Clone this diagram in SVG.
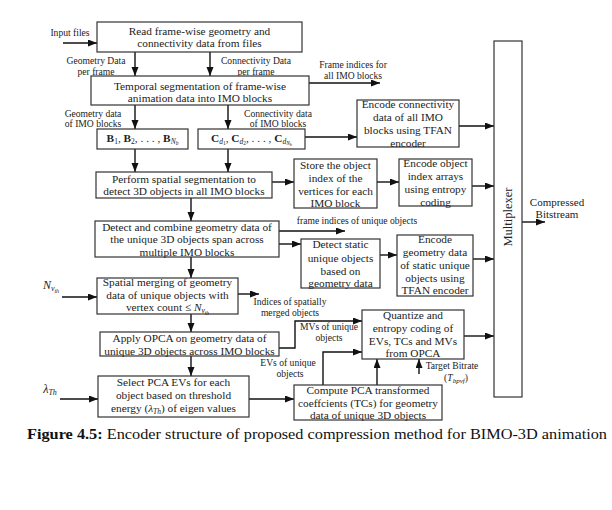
<svg xmlns="http://www.w3.org/2000/svg" width="612" height="510" viewBox="0 0 612 510">
<defs>
<marker id="ah" markerUnits="userSpaceOnUse" markerWidth="10" markerHeight="8" refX="9" refY="3.5" orient="auto">
<path d="M0,0 L9,3.5 L0,7 z" fill="#111"/>
</marker>
<style>
.box{fill:#fff;stroke:#333;stroke-width:1.2}
.t{font-family:"Liberation Serif","DejaVu Serif",serif;font-size:11.3px;fill:#222;text-anchor:middle}
.l{font-family:"Liberation Serif","DejaVu Serif",serif;font-size:9.6px;fill:#222;text-anchor:middle}
.c{fill:none;stroke:#111;stroke-width:1.4;marker-end:url(#ah)}
.b{font-weight:bold}
.i{font-style:italic}
</style>
</defs>
<rect width="612" height="510" fill="#fff"/>

<g id="connectors">
<line class="c" x1="63" y1="43" x2="97" y2="43"/>
<line class="c" x1="135" y1="52" x2="135" y2="76"/>
<line class="c" x1="210" y1="52" x2="210" y2="76"/>
<line class="c" x1="309" y1="83" x2="380" y2="83"/>
<line class="c" x1="135" y1="105" x2="135" y2="129"/>
<line class="c" x1="228" y1="105" x2="228" y2="129"/>
<line class="c" x1="135" y1="149" x2="135" y2="172"/>
<line class="c" x1="228" y1="149" x2="228" y2="172"/>
<line class="c" x1="305" y1="137" x2="357" y2="137"/>
<line class="c" x1="459" y1="126" x2="494" y2="126"/>
<line class="c" x1="272" y1="182" x2="294" y2="182"/>
<line class="c" x1="377" y1="182" x2="399" y2="182"/>
<line class="c" x1="472" y1="186" x2="494" y2="186"/>
<line class="c" x1="191" y1="198" x2="191" y2="221"/>
<line class="c" x1="279" y1="231" x2="345" y2="231"/>
<line class="c" x1="279" y1="244" x2="301" y2="244"/>
<line class="c" x1="380" y1="255" x2="397" y2="255"/>
<line class="c" x1="473" y1="259" x2="494" y2="259"/>
<line class="c" x1="191" y1="257" x2="191" y2="278"/>
<line class="c" x1="62" y1="297" x2="97" y2="297"/>
<line class="c" x1="238" y1="294" x2="259" y2="294"/>
<line class="c" x1="191" y1="314" x2="191" y2="332"/>
<line class="c" x1="191" y1="356" x2="191" y2="376"/>
<line class="c" x1="60" y1="399" x2="98" y2="399"/>
<line class="c" x1="249" y1="399" x2="294" y2="399"/>
<polyline class="c" points="279,348 295,348 295,321 362,321"/>
<polyline class="c" points="323,385 323,352 362,352"/>
<line class="c" x1="377" y1="385" x2="377" y2="359"/>
<line class="c" x1="419" y1="374" x2="419" y2="359"/>
<line class="c" x1="464" y1="336" x2="494" y2="336"/>
<line class="c" x1="522" y1="222" x2="545" y2="222"/>
</g>

<g id="labels">
<text class="l" x="70" y="36">Input files</text>
<text class="l" x="96" y="64">Geometry Data</text>
<text class="l" x="96" y="75">per frame</text>
<text class="l" x="256" y="64">Connectivity Data</text>
<text class="l" x="256" y="75">per frame</text>
<text class="l" x="353" y="68">Frame indices for</text>
<text class="l" x="353" y="79">all IMO blocks</text>
<text class="l" x="93" y="117">Geometry data</text>
<text class="l" x="93" y="127">of IMO blocks</text>
<text class="l" x="278" y="117">Connectivity data</text>
<text class="l" x="278" y="127">of IMO blocks</text>
<text class="l" x="357" y="224">frame indices of unique objects</text>
<text class="l" x="290" y="305">Indices of spatially</text>
<text class="l" x="290" y="316">merged objects</text>
<text class="l" x="329" y="330">MVs of unique</text>
<text class="l" x="329" y="341">objects</text>
<text class="l" x="288" y="366">EVs of unique</text>
<text class="l" x="290" y="377">objects</text>
<text class="l" x="452" y="369">Target Bitrate</text>
<text class="l" x="456" y="381">(<tspan class="i">T</tspan><tspan font-size="7" dy="2" class="i">bpvf</tspan><tspan dy="-2">)</tspan></text>
<text class="l" x="51" y="289"><tspan class="i" font-size="12">N</tspan><tspan class="i" font-size="8" dy="2">v</tspan><tspan class="i" font-size="6" dy="1.5">th</tspan></text>
<text class="l" x="50" y="393"><tspan class="i" font-size="12">λ</tspan><tspan class="i" font-size="8" dy="2">Th</tspan></text>
<text class="l" x="557" y="206" style="font-size:11px">Compressed</text>
<text class="l" x="557" y="218" style="font-size:11px">Bitstream</text>
</g>

<g id="n-read">
<rect class="box" x="97" y="22" width="205" height="30"/>
<text class="t" x="199.5" y="35">Read frame-wise geometry and</text>
<text class="t" x="199.5" y="47">connectivity data from files</text>
</g>
<g id="n-temporal">
<rect class="box" x="91" y="76" width="218" height="29"/>
<text class="t" x="200" y="90">Temporal segmentation of frame-wise</text>
<text class="t" x="200" y="102">animation data into IMO blocks</text>
</g>
<g id="n-B">
<rect class="box" x="97" y="129" width="91" height="20"/>
<text class="t" x="142.5" y="142"><tspan class="b">B</tspan><tspan font-size="7.5" dy="2">1</tspan><tspan dy="-2">, </tspan><tspan class="b">B</tspan><tspan font-size="7.5" dy="2">2</tspan><tspan dy="-2">, . . . , </tspan><tspan class="b">B</tspan><tspan class="i" font-size="7.5" dy="2">N</tspan><tspan class="i" font-size="5.5" dy="1">b</tspan></text>
</g>
<g id="n-C">
<rect class="box" x="198" y="129" width="107" height="20"/>
<text class="t" x="251.5" y="142"><tspan class="b">C</tspan><tspan class="i" font-size="7.5" dy="2">d</tspan><tspan font-size="5.5" dy="1">1</tspan><tspan dy="-3">, </tspan><tspan class="b">C</tspan><tspan class="i" font-size="7.5" dy="2">d</tspan><tspan font-size="5.5" dy="1">2</tspan><tspan dy="-3">, . . . , </tspan><tspan class="b">C</tspan><tspan class="i" font-size="7.5" dy="2">d</tspan><tspan class="i" font-size="5.5" dy="1">N</tspan><tspan class="i" font-size="4.5" dy="1">b</tspan></text>
</g>
<g id="n-encconn">
<rect class="box" x="357" y="100" width="102" height="47"/>
<text class="t" x="408" y="108">Encode connectivity</text>
<text class="t" x="408" y="121">data of all IMO</text>
<text class="t" x="408" y="134">blocks using TFAN</text>
<text class="t" x="408" y="147">encoder</text>
</g>
<g id="n-perform">
<rect class="box" x="96" y="172" width="176" height="26"/>
<text class="t" x="184" y="183">Perform spatial segmentation to</text>
<text class="t" x="184" y="195">detect 3D objects in all IMO blocks</text>
</g>
<g id="n-store">
<rect class="box" x="294" y="159" width="83" height="49"/>
<text class="t" x="335.5" y="169">Store the object</text>
<text class="t" x="335.5" y="182">index of the</text>
<text class="t" x="335.5" y="195">vertices for each</text>
<text class="t" x="335.5" y="207">IMO block</text>
</g>
<g id="n-encobj">
<rect class="box" x="399" y="159" width="73" height="47"/>
<text class="t" x="435.5" y="167">Encode object</text>
<text class="t" x="435.5" y="180">index arrays</text>
<text class="t" x="435.5" y="193">using entropy</text>
<text class="t" x="435.5" y="206">coding</text>
</g>
<g id="n-combine">
<rect class="box" x="95" y="221" width="184" height="36"/>
<text class="t" x="187" y="231">Detect and combine geometry data of</text>
<text class="t" x="187" y="243">the unique 3D objects span across</text>
<text class="t" x="187" y="256">multiple IMO blocks</text>
</g>
<g id="n-static">
<rect class="box" x="301" y="239" width="79" height="49"/>
<text class="t" x="340.5" y="248">Detect static</text>
<text class="t" x="340.5" y="262">unique objects</text>
<text class="t" x="340.5" y="275">based on</text>
<text class="t" x="340.5" y="287">geometry data</text>
</g>
<g id="n-encgeom">
<rect class="box" x="397" y="235" width="76" height="61"/>
<text class="t" x="435" y="243">Encode</text>
<text class="t" x="435" y="256">geometry data</text>
<text class="t" x="435" y="269">of static unique</text>
<text class="t" x="435" y="282">objects using</text>
<text class="t" x="435" y="294">TFAN encoder</text>
</g>
<g id="n-merge">
<rect class="box" x="97" y="278" width="141" height="36"/>
<text class="t" x="167.5" y="286">Spatial merging of geometry</text>
<text class="t" x="167.5" y="299">data of unique objects with</text>
<text class="t" x="167.5" y="311">vertex count ≤ <tspan class="i">N</tspan><tspan class="i" font-size="7.5" dy="2">v</tspan><tspan class="i" font-size="5.5" dy="1.5">th</tspan></text>
</g>
<g id="n-opca">
<rect class="box" x="100" y="332" width="179" height="24"/>
<text class="t" x="189.5" y="342">Apply OPCA on geometry data of</text>
<text class="t" x="189.5" y="355">unique 3D objects across IMO blocks</text>
</g>
<g id="n-select">
<rect class="box" x="98" y="376" width="151" height="41"/>
<text class="t" x="173.5" y="386">Select PCA EVs for each</text>
<text class="t" x="173.5" y="399">object based on threshold</text>
<text class="t" x="173.5" y="412">energy (<tspan class="i">λ</tspan><tspan class="i" font-size="7.5" dy="2">Th</tspan><tspan dy="-2">) of eigen values</tspan></text>
</g>
<g id="n-compute">
<rect class="box" x="294" y="385" width="148" height="35"/>
<text class="t" x="368" y="394">Compute PCA transformed</text>
<text class="t" x="368" y="407">coeffcients (TCs) for geometry</text>
<text class="t" x="368" y="419">data of unique 3D objects</text>
</g>
<g id="n-quant">
<rect class="box" x="362" y="310" width="102" height="49"/>
<text class="t" x="413" y="319">Quantize and</text>
<text class="t" x="413" y="332">entropy coding of</text>
<text class="t" x="413" y="345">EVs, TCs and MVs</text>
<text class="t" x="413" y="357">from OPCA</text>
</g>
<g id="n-mux">
<rect class="box" x="494" y="41" width="28" height="356"/>
<text class="t" style="font-size:12.5px" transform="translate(512,217) rotate(-90)" x="0" y="0">Multiplexer</text>
</g>

<g id="caption">
<text x="27" y="439" font-family="'Liberation Serif','DejaVu Serif',serif" font-size="15" fill="#111" textLength="580" lengthAdjust="spacingAndGlyphs"><tspan font-weight="bold">Figure 4.5:</tspan> Encoder structure of proposed compression method for BIMO-3D animation</text>
</g>
</svg>
